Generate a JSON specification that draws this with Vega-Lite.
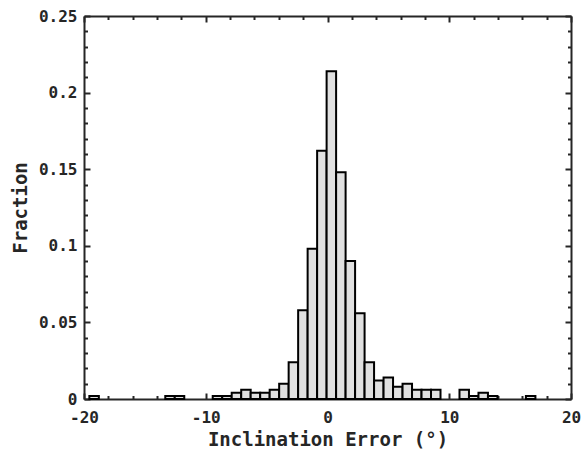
{
  "$schema": "https://vega.github.io/schema/vega-lite/v6.json",
  "width": 487,
  "height": 383,
  "autosize": {"type": "none"},
  "padding": {"left": 84, "top": 16, "right": 11, "bottom": 55},
  "background": "white",
  "config": {
    "view": {"stroke": null},
    "axis": {
      "labelFont": "DejaVu Sans Mono",
      "labelFontWeight": "bold",
      "labelFontSize": 16,
      "labelColor": "#262626",
      "labelFlush": false,
      "labelOverlap": false,
      "titleFont": "DejaVu Sans Mono",
      "titleFontWeight": "bold",
      "titleFontSize": 19,
      "titleColor": "#262626",
      "domainColor": "#262626",
      "domainWidth": 2,
      "tickColor": "#262626",
      "tickWidth": 2,
      "grid": false,
      "zindex": 1
    }
  },
  "data": {
    "values": [
      {"x0": -19.560, "x1": -18.781, "f": 0.002},
      {"x0": -13.324, "x1": -12.545, "f": 0.002},
      {"x0": -12.545, "x1": -11.765, "f": 0.002},
      {"x0": -9.427, "x1": -8.647, "f": 0.002},
      {"x0": -8.647, "x1": -7.868, "f": 0.002},
      {"x0": -7.868, "x1": -7.088, "f": 0.004},
      {"x0": -7.088, "x1": -6.309, "f": 0.006},
      {"x0": -6.309, "x1": -5.529, "f": 0.004},
      {"x0": -5.529, "x1": -4.750, "f": 0.004},
      {"x0": -4.750, "x1": -3.970, "f": 0.006},
      {"x0": -3.970, "x1": -3.191, "f": 0.010},
      {"x0": -3.191, "x1": -2.411, "f": 0.024},
      {"x0": -2.411, "x1": -1.632, "f": 0.058},
      {"x0": -1.632, "x1": -0.852, "f": 0.098},
      {"x0": -0.852, "x1": -0.073, "f": 0.162},
      {"x0": -0.073, "x1": 0.707, "f": 0.214},
      {"x0": 0.707, "x1": 1.487, "f": 0.148},
      {"x0": 1.487, "x1": 2.266, "f": 0.090},
      {"x0": 2.266, "x1": 3.046, "f": 0.056},
      {"x0": 3.046, "x1": 3.825, "f": 0.024},
      {"x0": 3.825, "x1": 4.605, "f": 0.012},
      {"x0": 4.605, "x1": 5.384, "f": 0.014},
      {"x0": 5.384, "x1": 6.164, "f": 0.008},
      {"x0": 6.164, "x1": 6.943, "f": 0.010},
      {"x0": 6.943, "x1": 7.723, "f": 0.006},
      {"x0": 7.723, "x1": 8.502, "f": 0.006},
      {"x0": 8.502, "x1": 9.282, "f": 0.006},
      {"x0": 10.841, "x1": 11.620, "f": 0.006},
      {"x0": 11.620, "x1": 12.400, "f": 0.002},
      {"x0": 12.400, "x1": 13.179, "f": 0.004},
      {"x0": 13.179, "x1": 13.959, "f": 0.002},
      {"x0": 16.297, "x1": 17.077, "f": 0.002}
    ]
  },
  "layer": [
    {
      "mark": {"type": "bar", "fill": "#e0e0e0", "stroke": "#000000", "strokeWidth": 2},
      "encoding": {
        "x": {
          "field": "x0", "type": "quantitative",
          "scale": {"domain": [-20, 20], "nice": false, "zero": false},
          "axis": {
            "orient": "bottom",
            "values": [-20, -10, 0, 10, 20],
            "tickSize": -6,
            "labelPadding": 16,
            "labelExpr": "'' + datum.value",
            "title": "Inclination Error (°)",
            "titlePadding": 5
          }
        },
        "x2": {"field": "x1"},
        "y": {
          "field": "f", "type": "quantitative",
          "scale": {"domain": [0, 0.25], "nice": false},
          "axis": {
            "orient": "left",
            "values": [0, 0.05, 0.1, 0.15, 0.2, 0.25],
            "tickSize": -6,
            "labelPadding": 13,
            "labelExpr": "'' + datum.value",
            "title": "Fraction",
            "titlePadding": 8
          }
        },
        "y2": {"datum": 0}
      }
    },
    {
      "mark": {"type": "bar", "opacity": 0},
      "encoding": {
        "x": {
          "field": "x0", "type": "quantitative",
          "axis": {"orient": "bottom", "values": [-18, -16, -14, -12, -8, -6, -4, -2, 2, 4, 6, 8, 12, 14, 16, 18], "tickSize": -3.5, "labels": false, "domain": false, "title": null}
        },
        "x2": {"field": "x1"},
        "y": {
          "field": "f", "type": "quantitative",
          "axis": {"orient": "left", "values": [0.01, 0.02, 0.03, 0.04, 0.06, 0.07, 0.08, 0.09, 0.11, 0.12, 0.13, 0.14, 0.16, 0.17, 0.18, 0.19, 0.21, 0.22, 0.23, 0.24], "tickSize": -3.5, "labels": false, "domain": false, "title": null}
        },
        "y2": {"datum": 0}
      }
    },
    {
      "mark": {"type": "bar", "opacity": 0},
      "encoding": {
        "x": {
          "field": "x0", "type": "quantitative",
          "axis": {"orient": "top", "values": [-20, -10, 0, 10, 20], "tickSize": -6, "labels": false, "title": null}
        },
        "x2": {"field": "x1"},
        "y": {
          "field": "f", "type": "quantitative",
          "axis": {"orient": "right", "values": [0, 0.05, 0.1, 0.15, 0.2, 0.25], "tickSize": -6, "labels": false, "title": null}
        },
        "y2": {"datum": 0}
      }
    },
    {
      "mark": {"type": "bar", "opacity": 0},
      "encoding": {
        "x": {
          "field": "x0", "type": "quantitative",
          "axis": {"orient": "top", "values": [-18, -16, -14, -12, -8, -6, -4, -2, 2, 4, 6, 8, 12, 14, 16, 18], "tickSize": -3.5, "labels": false, "domain": false, "title": null}
        },
        "x2": {"field": "x1"},
        "y": {
          "field": "f", "type": "quantitative",
          "axis": {"orient": "right", "values": [0.01, 0.02, 0.03, 0.04, 0.06, 0.07, 0.08, 0.09, 0.11, 0.12, 0.13, 0.14, 0.16, 0.17, 0.18, 0.19, 0.21, 0.22, 0.23, 0.24], "tickSize": -3.5, "labels": false, "domain": false, "title": null}
        },
        "y2": {"datum": 0}
      }
    }
  ],
  "resolve": {"axis": {"x": "independent", "y": "independent"}}
}
